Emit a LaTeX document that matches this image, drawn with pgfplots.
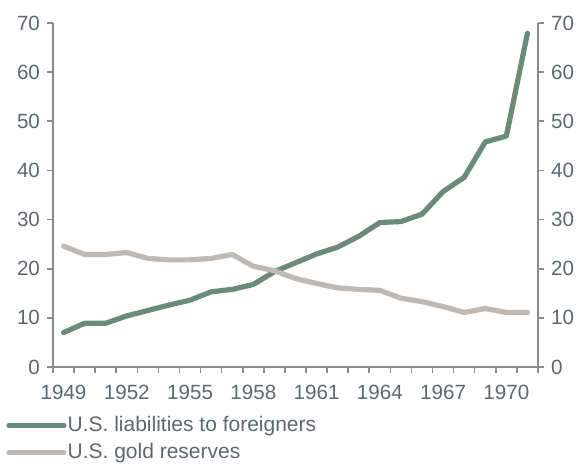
\documentclass[border=0pt]{standalone}
\usepackage{pgfplots}
\pgfplotsset{compat=1.18}
\usepackage{fontspec}
\setmainfont{Liberation Sans}
\definecolor{liab}{HTML}{6A8A7A}
\definecolor{gold}{HTML}{BEB9B5}
\definecolor{txt}{HTML}{5F6670}
\definecolor{axl}{HTML}{8C8C8C}

\pgfplotstableread{
year liab gold
1949 7.0 24.6
1950 8.9 22.9
1951 8.9 22.9
1952 10.4 23.3
1953 11.5 22.1
1954 12.6 21.8
1955 13.6 21.8
1956 15.3 22.1
1957 15.8 22.9
1958 16.8 20.5
1959 19.4 19.6
1960 21.2 18.0
1961 23.0 17.0
1962 24.4 16.1
1963 26.6 15.8
1964 29.4 15.6
1965 29.6 14.0
1966 31.1 13.3
1967 35.7 12.3
1968 38.6 11.1
1969 45.8 11.9
1970 47.0 11.1
1971 67.9 11.1
}\datatable

\begin{document}
\begin{tikzpicture}
\pgfplotsset{
  base/.style={
    width=242.5pt, height=172pt, scale only axis,
    xmin=1948.5, xmax=1971.5, ymin=0, ymax=70,
    ytick={0,10,...,70},
    tick align=outside, major tick length=3pt,
    axis line style={axl, line width=0.8pt, -},
    tick style={axl, line width=0.8pt},
    tick label style={font=\fontsize{10.3}{12}\selectfont, text=txt},
    /pgf/number format/assume math mode=true,
    /pgf/number format/1000 sep={},
  }
}
\useasboundingbox (-26.5pt,-48pt) rectangle (263.5pt,183.5pt);
\begin{axis}[base,
  axis x line*=bottom, axis y line*=left,
  xtick={1948.5,1949.5,...,1971.5}, xticklabels={},
  extra x ticks={1949,1952,1955,1958,1961,1964,1967,1970},
  extra x tick labels={1949,1952,1955,1958,1961,1964,1967,1970},
  extra x tick style={major tick length=0pt},
  xticklabel style={yshift=-5.5pt},
  legend style={at={(-23.5pt,-23.5pt)}, anchor=north west, draw=none, fill=none,
    inner sep=0pt, row sep=2.5pt, font=\fontsize{10.5}{12}\selectfont, text=txt,
    nodes={inner xsep=0.5pt, inner ysep=1pt},
    cells={anchor=west}},
  legend image code/.code={\draw[#1] (0pt,0pt) -- (27.5pt,0pt);},
]
\addplot[liab, line width=2.6pt, line join=round, line cap=round] table[x=year, y=liab] {\datatable};
\addlegendentry{U.S. liabilities to foreigners}
\addplot[gold, line width=2.6pt, line join=round, line cap=round] table[x=year, y=gold] {\datatable};
\addlegendentry{U.S. gold reserves}
\end{axis}
\begin{axis}[base,
  axis x line=none, axis y line*=right,
]
\end{axis}
\end{tikzpicture}
\end{document}
